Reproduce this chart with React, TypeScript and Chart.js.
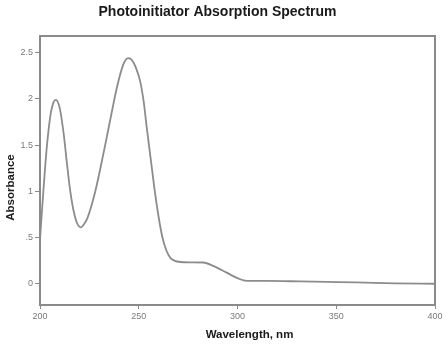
import React, { useEffect, useRef } from "react";
import { Chart, registerables } from "chart.js";

Chart.register(...registerables);

const chartTitle = "Photoinitiator Absorption Spectrum";
const xTitle = "Wavelength, nm";
const yTitle = "Absorbance";

const wavelengths = [
  200, 201.7, 203.5, 205.5, 206.8, 208, 210, 212, 213.5, 215.2, 216.9, 218.7,
  220.6, 222, 224, 226, 228, 230.4, 233, 236, 238.8, 241.5, 243, 244.7, 246.5,
  248.5, 250.6, 252.5, 254, 256, 258, 260, 262, 264, 266, 268, 271, 276, 282.7,
  288, 294.5, 300, 304.7, 315, 331.6, 345, 360, 380, 400,
];
const absorbance = [
  0.48, 1.0, 1.49, 1.85, 1.96, 1.99, 1.9, 1.62, 1.33, 1.02, 0.8, 0.66, 0.61,
  0.635, 0.71, 0.84, 1.0, 1.23, 1.5, 1.82, 2.11, 2.33, 2.41, 2.44, 2.42, 2.34,
  2.2, 1.97, 1.7, 1.36, 1.02, 0.73, 0.5, 0.36, 0.28, 0.25, 0.235, 0.232, 0.23,
  0.19, 0.12, 0.06, 0.03, 0.03, 0.025, 0.02, 0.015, 0.005, 0.0,
];
const xTicks = [200, 250, 300, 350, 400];
const yTicks = [0, 0.5, 1, 1.5, 2, 2.5];
const yTickLabels = ["0", ".5", "1", "1.5", "2", "2.5"];

export default function App() {
  const ref = useRef<HTMLCanvasElement | null>(null);

  useEffect(() => {
    if (!ref.current) return;
    const boxPlugin = {
      id: "boxAndTitles",
      afterDraw(chart: any) {
        const { ctx, chartArea } = chart;
        ctx.save();
        ctx.strokeStyle = "#8a8a8a";
        ctx.lineWidth = 2;
        ctx.strokeRect(
          chartArea.left,
          chartArea.top,
          chartArea.right - chartArea.left,
          chartArea.bottom - chartArea.top
        );
        ctx.fillStyle = "#1a1a1a";
        ctx.font = "bold 11.5px 'Liberation Sans', Arial, sans-serif";
        ctx.textAlign = "center";
        ctx.textBaseline = "middle";
        const cx = (chartArea.left + chartArea.right) / 2 + 12;
        ctx.fillText(xTitle, cx, chartArea.bottom + 30);
        const cy = (chartArea.top + chartArea.bottom) / 2 + 17;
        ctx.translate(11, cy);
        ctx.rotate(-Math.PI / 2);
        ctx.fillText(yTitle, 0, 0);
        ctx.restore();
      },
    };

    const chart = new Chart(ref.current, {
      type: "line",
      data: {
        datasets: [
          {
            data: wavelengths.map((w, i) => ({ x: w, y: absorbance[i] })),
            borderColor: "#8c8c8c",
            borderWidth: 1.8,
            pointRadius: 0,
            cubicInterpolationMode: "monotone",
            fill: false,
          },
        ],
      },
      options: {
        animation: false,
        responsive: false,
        layout: { padding: { left: 0, right: 13, top: 0, bottom: 0 } },
        plugins: {
          legend: { display: false },
          tooltip: { enabled: false },
          title: {
            display: true,
            text: chartTitle,
            color: "#1a1a1a",
            font: { family: "'Liberation Sans', Arial, sans-serif", size: 14, weight: "bold" },
            padding: { top: 4, bottom: 15.2 },
          },
        },
        scales: {
          x: {
            type: "linear",
            min: 200,
            max: 400,
            afterFit(scale: any) {
              scale.height = 48;
            },
            afterBuildTicks(scale: any) {
              scale.ticks = xTicks.map((v) => ({ value: v }));
            },
            ticks: {
              color: "#7a7a7a",
              font: { family: "'Liberation Sans', Arial, sans-serif", size: 9 },
              padding: 2,
              maxRotation: 0,
              callback: (v: any) => String(v),
            },
            grid: {
              display: true,
              drawOnChartArea: false,
              drawTicks: true,
              tickLength: 4,
              color: "#8a8a8a",
            },
            border: { display: false },
          },
          y: {
            type: "linear",
            min: -0.23,
            max: 2.68,
            afterFit(scale: any) {
              scale.width = 40;
            },
            afterBuildTicks(scale: any) {
              scale.ticks = yTicks.map((v) => ({ value: v }));
            },
            ticks: {
              color: "#7a7a7a",
              font: { family: "'Liberation Sans', Arial, sans-serif", size: 9 },
              padding: 2,
              callback: (v: any) => {
                const i = yTicks.indexOf(Number(v));
                return i >= 0 ? yTickLabels[i] : "";
              },
            },
            grid: {
              display: true,
              drawOnChartArea: false,
              drawTicks: true,
              tickLength: 5,
              color: "#8a8a8a",
            },
            border: { display: false },
          },
        },
      },
      plugins: [boxPlugin],
    } as any);
    return () => chart.destroy();
  }, []);

  return (
    <div style={{ position: "fixed", left: 0, top: 0, width: 448, height: 353, background: "#fff" }}>
      <canvas ref={ref} width={448} height={353} style={{ width: 448, height: 353 }} />
    </div>
  );
}
